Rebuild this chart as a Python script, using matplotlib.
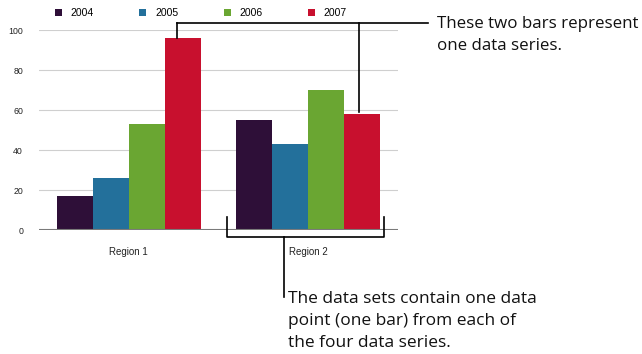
import matplotlib
matplotlib.use("Agg")
import matplotlib.pyplot as plt
import numpy as np

regions = ["Region 1", "Region 2"]
series_names = ["2004", "2005", "2006", "2007"]
values_2004 = [17, 55]
values_2005 = [26, 43]
values_2006 = [53, 70]
values_2007 = [96, 58]
series_values = [values_2004, values_2005, values_2006, values_2007]
colors = ["#2e0f38", "#23709b", "#6aa632", "#c8102e"]
yticks = [0, 20, 40, 60, 80, 100]
note_top = ["These two bars represent", "one data series."]
note_bottom = ["The data sets contain one data", "point (one bar) from each of", "the four data series."]

W, H = 642, 354
fig = plt.figure(figsize=(W / 100, H / 100), dpi=100)
ax = fig.add_axes([39 / W, (H - 230) / H, (398 - 39) / W, 200 / H])

x = np.arange(len(regions))
bw = 0.2
for i, (name, vals) in enumerate(zip(series_names, series_values)):
    ax.bar(x + (i - 1.5) * bw, vals, width=bw, color=colors[i], label=name, zorder=3)

ax.set_xlim(-0.5, 1.5)
ax.set_ylim(0, 100)
ax.set_yticks(yticks)
ax.set_yticklabels([str(t) for t in yticks], fontsize=6.3, family="Liberation Sans", color="#222222")
ax.tick_params(axis="y", length=0, pad=11.5)
ax.set_xticks([])
for s in ax.spines.values():
    s.set_visible(False)
for t in yticks[1:]:
    ax.axhline(t, color="#cfcfcf", lw=0.8, zorder=1)
ax.axhline(0, color="#7a7a7a", lw=1.5, zorder=4)

for xi, r in zip(x, regions):
    ax.text(xi, -11, r, ha="center", va="center", fontsize=7, family="Liberation Sans", color="#222222")

leg = ax.legend(loc="center left", bbox_to_anchor=(0.0446, 1.085), ncol=4, frameon=False,
                prop={"family": "Liberation Sans", "size": 7.5}, handlelength=0.67, handleheight=0.67,
                columnspacing=4.35, handletextpad=0.85, borderaxespad=0, borderpad=0)

# callout lines (data coordinates)
lk = dict(color="black", lw=1.2, clip_on=False, zorder=5)
ax.plot([0.27, 1.668], [103.5, 103.5], **lk)
ax.plot([0.27, 0.27], [103.5, 96], **lk)
ax.plot([1.282, 1.282], [103.5, 59], **lk)
ax.plot([0.55, 0.55, 1.422, 1.422], [6.5, -3.5, -3.5, 6.5], **lk)
ax.plot([0.863, 0.863], [-3.5, -33.5], **lk)

for k, line in enumerate(note_top):
    fig.text(437 / W, 1 - (28 + 21.5 * k) / H, line, ha="left", va="baseline",
             fontsize=12.2, family="Open Sans", color="#111111")
for k, line in enumerate(note_bottom):
    fig.text(288 / W, 1 - (303 + 22 * k) / H, line, ha="left", va="baseline",
             fontsize=12.5, family="Open Sans", color="#111111")

fig.savefig("out.png", dpi=100)
